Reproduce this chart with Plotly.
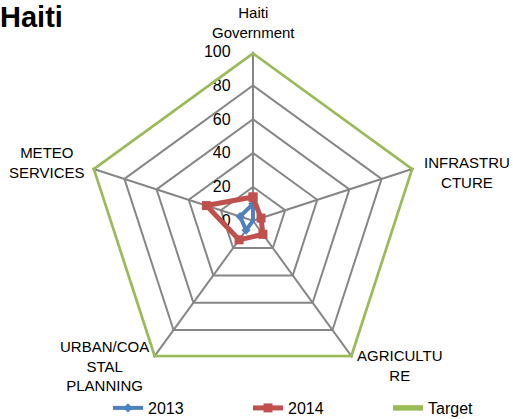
import math
import plotly.graph_objects as go

categories = ["Haiti<br>Government", "INFRASTRU<br>CTURE", "AGRICULTU<br>RE",
              "URBAN/COA<br>STAL<br>PLANNING", "METEO<br>SERVICES"]
values_2013 = [10, 0, 0, 7, 8]
values_2014 = [14, 5, 10, 14, 29]
values_target = [100, 100, 100, 100, 100]
radial_ticks = [0, 20, 40, 60, 80, 100]

def closed(v):
    return list(v) + [v[0]]

theta = closed(categories)

fig = go.Figure()
fig.add_trace(go.Scatterpolar(r=closed(values_2013), theta=theta, name="2013",
                              mode="lines+markers",
                              line=dict(color="#4F81BD", width=4),
                              marker=dict(symbol="diamond", size=7, color="#4F81BD")))
fig.add_trace(go.Scatterpolar(r=closed(values_2014), theta=theta, name="2014",
                              mode="lines+markers",
                              line=dict(color="#C0504D", width=5),
                              marker=dict(symbol="square", size=9, color="#C0504D")))
fig.add_trace(go.Scatterpolar(r=closed(values_target), theta=theta, name="Target",
                              mode="lines",
                              line=dict(color="#9BBB59", width=5.5)))

W, H = 513, 419
cx, cy, R = 253, 220.7, 169

# category labels placed just outside each spoke end (angle from polar geometry)
label_style = [
    dict(xanchor="center", yanchor="bottom", xshift=0, yshift=9),
    dict(xanchor="left", yanchor="middle", xshift=8, yshift=-4.5),
    dict(xanchor="left", yanchor="top", xshift=3, yshift=12),
    dict(xanchor="right", yanchor="top", xshift=-3, yshift=21),
    dict(xanchor="right", yanchor="middle", xshift=-5, yshift=6),
]
annotations = []
n = len(categories)
for i, (cat, st) in enumerate(zip(categories, label_style)):
    ang = math.radians(90 - 360 * i / n)
    px = cx + R * math.cos(ang)
    py = cy - R * math.sin(ang)
    annotations.append(dict(text=cat, x=px / W, y=1 - py / H, xref="paper", yref="paper",
                            showarrow=False, align="center",
                            font=dict(size=15, color="black"), **st))

fig.update_layout(
    width=W, height=H,
    margin=dict(l=0, r=0, t=0, b=0, autoexpand=False),
    paper_bgcolor="white",
    font=dict(family="Liberation Sans, Arial, sans-serif", size=15, color="black"),
    title=dict(text="<b>Haiti</b>", x=0.0, xanchor="left", y=0.985, yanchor="top",
               xref="paper", yref="container", pad=dict(t=0, l=0, b=0, r=0),
               font=dict(size=29, family="Liberation Sans, Arial, sans-serif", color="black")),
    polar=dict(
        domain=dict(x=[(cx - R) / W, (cx + R) / W],
                    y=[(H - cy - R) / H, (H - cy + R) / H]),
        bgcolor="white",
        gridshape="linear",
        radialaxis=dict(range=[0, 100], tickvals=radial_ticks, angle=90,
                        tickangle=90, layer="below traces",
                        showline=True, linecolor="#868686", linewidth=1.5,
                        gridcolor="#868686", gridwidth=1.5,
                        ticks="outside", ticklen=16, tickcolor="rgba(0,0,0,0)",
                        side="counterclockwise",
                        tickfont=dict(size=16, color="black")),
        angularaxis=dict(rotation=90, direction="clockwise", layer="below traces",
                         showline=False,
                         gridcolor="#868686", gridwidth=1.5, ticks="",
                         showticklabels=False),
    ),
    annotations=annotations,
    legend=dict(orientation="h", x=108 / W, xanchor="left", y=-6 / H, yanchor="bottom",
                bgcolor="rgba(0,0,0,0)", font=dict(size=16), entrywidth=95),
)

fig.write_html("out.html", config={"displayModeBar": False},
               post_script="document.body.style.margin='0';document.body.style.padding='0';")
